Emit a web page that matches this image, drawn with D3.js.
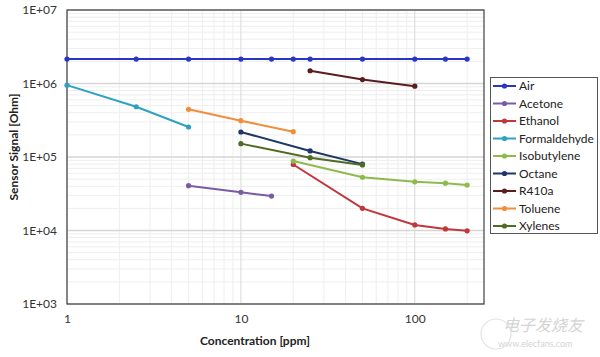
<!DOCTYPE html>
<html>
<head>
<meta charset="utf-8">
<script src="https://cdn.jsdelivr.net/npm/d3@7"></script>
<style>
body{margin:0;background:#fff;}
svg{display:block;font-family:Lato,"Open Sans",sans-serif;}
</style>
</head>
<body>
<svg id="chart" width="600" height="357"></svg>
<script>
const seriesNames = ["Air","Acetone","Ethanol","Formaldehyde","Isobutylene","Octane","R410a","Toluene","Xylenes"];
const seriesColors = ["#2B35C5","#7B5BA3","#C0373D","#2EA2C1","#8EBA4C","#1E3766","#5A1C1E","#F28E3A","#4F6B24"];
const airX = [1,2.5,5,10,15,20,25,50,100,150,200];
const airY = [2.15e6,2.15e6,2.15e6,2.15e6,2.15e6,2.15e6,2.15e6,2.15e6,2.15e6,2.15e6,2.15e6];
const acetoneX = [5,10,15];
const acetoneY = [4.07e4,3.31e4,2.94e4];
const ethanolX = [20,50,100,150,200];
const ethanolY = [7.9e4,2.0e4,1.19e4,1.05e4,9.9e3];
const formaldehydeX = [1,2.5,5];
const formaldehydeY = [9.5e5,4.83e5,2.56e5];
const isobutyleneX = [20,50,100,150,200];
const isobutyleneY = [8.8e4,5.3e4,4.6e4,4.4e4,4.16e4];
const octaneX = [10,25,50];
const octaneY = [2.19e5,1.21e5,8.0e4];
const r410aX = [25,50,100];
const r410aY = [1.49e6,1.13e6,9.2e5];
const tolueneX = [5,10,20];
const tolueneY = [4.45e5,3.12e5,2.21e5];
const xylenesX = [10,25,50];
const xylenesY = [1.52e5,9.8e4,7.8e4];
const yTickValues = [1e3,1e4,1e5,1e6,1e7];
const yTickLabels = ["1E+03","1E+04","1E+05","1E+06","1E+07"];
const xTickValues = [1,10,100];
const xTickLabels = ["1","10","100"];
const xTitle = "Concentration [ppm]";
const yTitle = "Sensor Signal [Ohm]";

const seriesX = [airX,acetoneX,ethanolX,formaldehydeX,isobutyleneX,octaneX,r410aX,tolueneX,xylenesX];
const seriesY = [airY,acetoneY,ethanolY,formaldehydeY,isobutyleneY,octaneY,r410aY,tolueneY,xylenesY];

const svg = d3.select("#chart");
const L = 67, R = 484, T = 10, B = 304;
const x = d3.scaleLog().domain([1,250]).range([L,R]);
const y = d3.scaleLog().domain([1e3,1e7]).range([B,T]);

// minor gridlines
const xMinor = [];
[1,10,100].forEach(d=>{for(let k=2;k<=9;k++){const v=d*k; if(v<250) xMinor.push(v);}});
const yMinor = [];
[1e3,1e4,1e5,1e6].forEach(d=>{for(let k=2;k<=9;k++) yMinor.push(d*k);});
const g = svg.append("g");
g.selectAll(".xm").data(xMinor).enter().append("line")
 .attr("x1",d=>x(d)).attr("x2",d=>x(d)).attr("y1",T).attr("y2",B)
 .attr("stroke","#eeeeee").attr("stroke-width",1);
g.selectAll(".ym").data(yMinor).enter().append("line")
 .attr("x1",L).attr("x2",R).attr("y1",d=>y(d)).attr("y2",d=>y(d))
 .attr("stroke","#eeeeee").attr("stroke-width",1);
g.selectAll(".xM").data(xTickValues).enter().append("line")
 .attr("x1",d=>x(d)).attr("x2",d=>x(d)).attr("y1",T).attr("y2",B)
 .attr("stroke","#d9d9d9").attr("stroke-width",1);
g.selectAll(".yM").data(yTickValues).enter().append("line")
 .attr("x1",L).attr("x2",R).attr("y1",d=>y(d)).attr("y2",d=>y(d))
 .attr("stroke","#d6d6d6").attr("stroke-width",1.6);

// frame
svg.append("rect").attr("x",L).attr("y",T).attr("width",R-L).attr("height",B-T)
 .attr("fill","none").attr("stroke","#404040").attr("stroke-width",1.2);

// axes labels
const yAxis = d3.axisLeft(y).tickValues(yTickValues).tickSize(0).tickPadding(10)
 .tickFormat((d,i)=>yTickLabels[i]);
const ya = svg.append("g").attr("transform",`translate(${L},0)`).call(yAxis);
ya.select(".domain").remove();
ya.selectAll("text").attr("font-size",12).attr("fill","#333").attr("font-family","Lato,'Open Sans',sans-serif");
const xAxis = d3.axisBottom(x).tickValues(xTickValues).tickSize(0).tickPadding(10)
 .tickFormat((d,i)=>xTickLabels[i]);
const xa = svg.append("g").attr("transform",`translate(0,${B})`).call(xAxis);
xa.select(".domain").remove();
xa.selectAll("text").attr("font-size",12).attr("fill","#333").attr("font-family","Lato,'Open Sans',sans-serif");

svg.append("text").attr("x",255).attr("y",345).attr("text-anchor","middle")
 .attr("font-size",12).attr("font-weight","bold").attr("fill","#222").text(xTitle);
svg.append("text").attr("transform","translate(18,147) rotate(-90)").attr("text-anchor","middle")
 .attr("font-size",12).attr("font-weight","bold").attr("fill","#222").text(yTitle);

// series
const line = d3.line().x(d=>x(d[0])).y(d=>y(d[1]));
seriesNames.forEach((name,i)=>{
  const pts = seriesX[i].map((v,j)=>[v,seriesY[i][j]]);
  const sg = svg.append("g");
  sg.append("path").datum(pts).attr("d",line).attr("fill","none")
    .attr("stroke",seriesColors[i]).attr("stroke-width",2);
  sg.selectAll("circle").data(pts).enter().append("circle")
    .attr("cx",d=>x(d[0])).attr("cy",d=>y(d[1])).attr("r",2.6)
    .attr("fill",seriesColors[i]);
});

// legend
const lg = svg.append("g");
lg.append("rect").attr("x",490.5).attr("y",77.5).attr("width",107).attr("height",156)
 .attr("fill","#fff").attr("stroke","#555").attr("stroke-width",1);
seriesNames.forEach((name,i)=>{
  const yy = 86 + i*17.5;
  lg.append("line").attr("x1",493).attr("x2",516).attr("y1",yy).attr("y2",yy)
    .attr("stroke",seriesColors[i]).attr("stroke-width",2);
  lg.append("circle").attr("cx",504.5).attr("cy",yy).attr("r",2.6).attr("fill",seriesColors[i]);
  lg.append("text").attr("x",519).attr("y",yy+4).attr("font-size",12).attr("fill","#222").text(name);
});

// watermark
svg.append("text").attr("x",503).attr("y",331).attr("font-size",16).attr("fill","#d4d4d4")
 .attr("font-family","'Noto Sans CJK SC'").attr("font-style","italic").text("电子发烧友");
svg.append("text").attr("x",498).attr("y",347).attr("font-size",9).attr("fill","#d4d4d4")
 .text("www.elecfans.com");
svg.append("circle").attr("cx",496).attr("cy",334).attr("r",15).attr("fill","none")
 .attr("stroke","#e2e2e2").attr("stroke-width",1.2);
</script>
</body>
</html>
